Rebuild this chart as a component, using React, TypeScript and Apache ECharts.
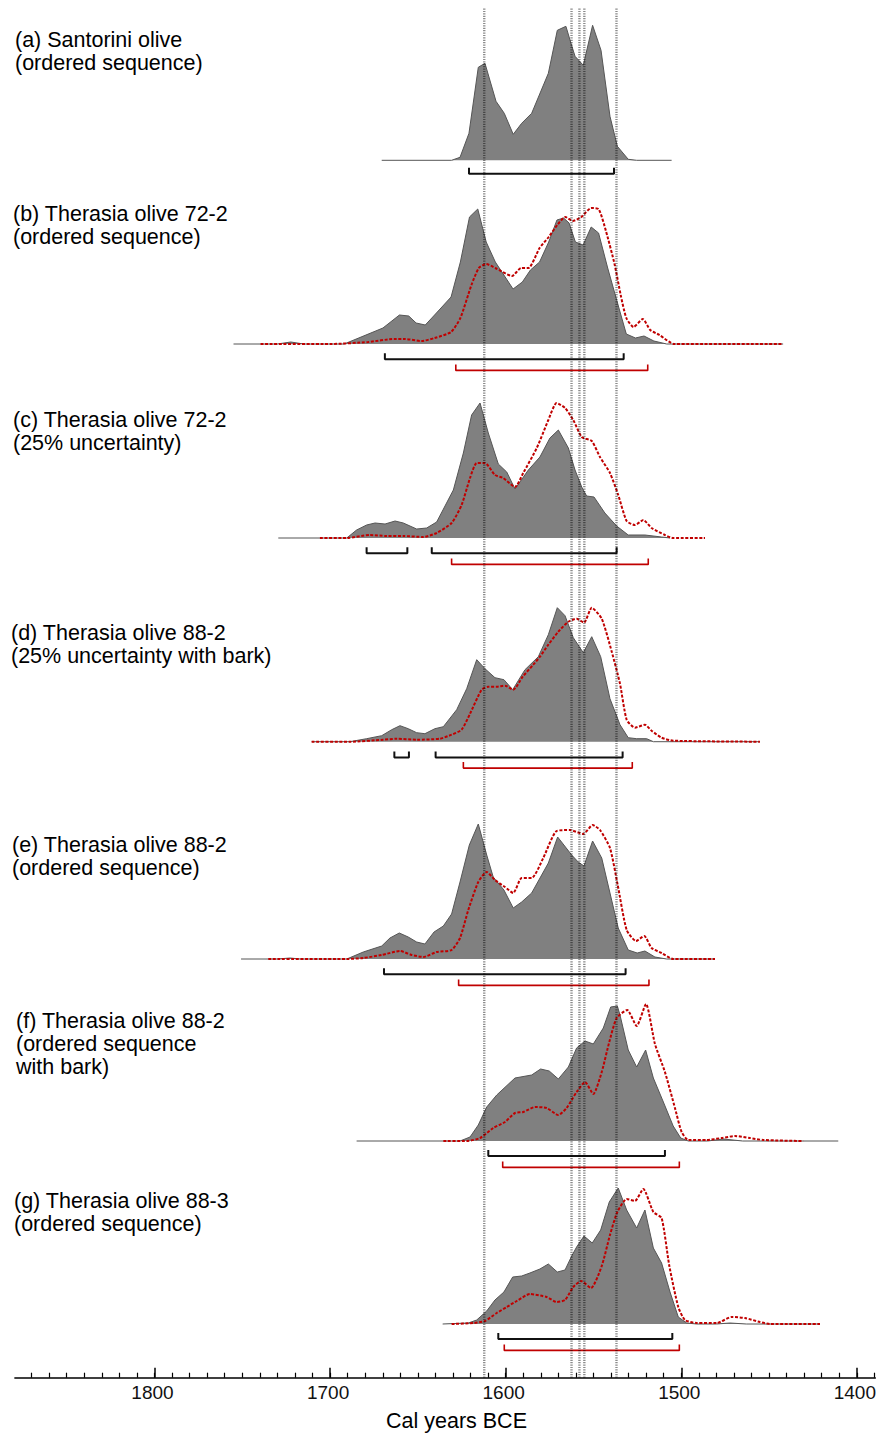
import React, { useEffect, useRef } from "react";
import * as echarts from "echarts";

const FONT = '"Liberation Sans", Arial, Helvetica, sans-serif';

type P = [number, number][];

// ---------- data (calendar years BCE, relative probability) ----------
const panelTitles = [
  "(a) Santorini olive\n(ordered sequence)",
  "(b) Therasia olive 72-2\n(ordered sequence)",
  "(c) Therasia olive 72-2\n(25% uncertainty)",
  "(d) Therasia olive 88-2\n(25% uncertainty with bark)",
  "(e) Therasia olive 88-2\n(ordered sequence)",
  "(f) Therasia olive 88-2\n(ordered sequence\nwith bark)",
  "(g) Therasia olive 88-3\n(ordered sequence)",
];

const grayA: P = [[1670.6,0],[1630.8,0],[1626.0,3],[1620.9,27],[1615.6,93],[1611.8,97],[1605.5,59],[1600.8,47],[1595.7,26],[1590.9,37],[1585.2,47],[1575.7,87],[1570.6,130],[1565.7,134],[1562.8,117],[1560.5,104],[1555.8,95],[1550.5,135],[1545.7,110],[1540.6,44],[1536.4,14],[1530.2,1],[1525.4,0],[1505.5,0]];

const grayB: P = [[1755.0,0],[1730,0],[1722.4,2],[1715,0],[1692.0,0],[1669.9,16],[1660.5,29],[1655.2,28],[1651.0,21],[1645.8,19],[1640.5,29],[1631.1,47],[1625.8,82],[1620.6,127],[1615.9,135],[1611.1,102],[1605.9,82],[1595.8,55],[1590.5,62],[1585.9,74],[1580.7,82],[1575.5,102],[1570.8,124],[1567.0,126],[1563.9,121],[1560.3,102],[1555.9,99],[1551.3,117],[1547.1,111],[1541.9,76],[1535.5,36],[1531.3,10],[1526.1,6],[1521.2,8],[1515.6,3],[1508.3,0],[1442,0]];
const redB: P = [[1739.6,0],[1699.3,0],[1678.3,2],[1663.6,5],[1657.3,5],[1647.9,3],[1640.5,6],[1631.1,12],[1625.8,26],[1619.5,59],[1615.3,76],[1611.1,80],[1605.9,76],[1596.4,68],[1591.2,76],[1587.0,76],[1580.7,96],[1575.5,107],[1570.2,120],[1566.0,127],[1561.8,123],[1556.9,127],[1551.3,136],[1547.1,135],[1542.9,113],[1538.0,80],[1534.5,49],[1531.3,26],[1527.2,17],[1521.9,25],[1517.7,14],[1512.4,9],[1504.0,0],[1442.1,0]];

const grayC: P = [[1729.5,0],[1690.5,0],[1684.9,8],[1679.2,13],[1674.4,15],[1668.7,14],[1663.0,17],[1658.3,15],[1650.7,9],[1645.0,10],[1639.3,16],[1629.8,48],[1624.1,85],[1619.4,123],[1614.6,135],[1609.9,105],[1604.2,74],[1599.4,66],[1594.7,49],[1587.1,68],[1580.5,81],[1574.8,100],[1570.0,108],[1564.3,90],[1560.5,68],[1556.7,51],[1553.9,42],[1549.7,41],[1543.5,25],[1536.8,12],[1530.2,3],[1520.7,3],[1511.2,1],[1506.4,0]];
const redC: P = [[1705.8,0],[1690.5,0],[1677.3,3],[1667.8,2],[1658.3,2],[1646.9,1],[1639.3,5],[1630.8,15],[1625.1,33],[1620.3,60],[1616.5,75],[1611.8,75],[1606.1,63],[1601.4,60],[1594.7,51],[1590.0,65],[1582.3,90],[1575.7,118],[1571.0,135],[1566.2,130],[1561.5,118],[1556.7,101],[1551.0,97],[1546.3,81],[1540.6,65],[1535.9,43],[1531.1,17],[1526.4,13],[1521.6,18],[1516.9,10],[1509.3,3],[1504.6,0],[1486.5,0]];

const grayD: P = [[1710.5,0],[1688.7,0],[1679.2,3],[1670.6,6],[1664.9,12],[1660.2,16],[1655.5,13],[1650.7,9],[1646.0,8],[1640.3,13],[1635.5,15],[1627.9,32],[1622.2,53],[1616.5,82],[1611.8,73],[1606.1,64],[1601.0,62],[1596.0,52],[1589.0,72],[1581.4,85],[1575.7,107],[1570.6,134],[1566.2,126],[1561.5,104],[1555.8,89],[1551.0,105],[1545.9,85],[1540.6,43],[1534.9,17],[1530.2,4],[1525.4,3],[1519.7,3],[1515.9,0],[1455.2,0]];
const redD: P = [[1710.5,0],[1688.7,0],[1669.7,2],[1662.1,3],[1650.7,2],[1637.4,3],[1630.8,7],[1625.1,12],[1620.3,28],[1613.7,52],[1609.9,55],[1605.1,55],[1600.4,56],[1595.7,52],[1590.3,65],[1584.3,77],[1580.5,85],[1575.7,97],[1570.0,110],[1564.3,120],[1559.6,123],[1555.4,119],[1551.0,134],[1545.3,123],[1539.6,90],[1534.9,58],[1531.1,22],[1526.4,14],[1520.7,17],[1516.9,11],[1511.2,4],[1504.6,1],[1455.2,0]];

const grayE: P = [[1750.7,0],[1730,0],[1722.8,1],[1717.1,0],[1690.5,0],[1681.1,7],[1670.6,13],[1665.9,21],[1660.6,26],[1655.5,22],[1650.7,17],[1646.0,15],[1640.8,27],[1635.5,33],[1630.8,45],[1626.0,77],[1620.7,114],[1615.6,135],[1610.8,104],[1607.1,82],[1601.0,69],[1595.7,51],[1590.9,57],[1585.2,66],[1575.7,96],[1570.4,122],[1562.4,104],[1558.7,97],[1555.4,93],[1550.5,118],[1545.3,101],[1535.9,31],[1530.2,9],[1525.1,6],[1520.7,8],[1515.0,2],[1508.3,0],[1480.8,0]];
const redE: P = [[1735.2,0],[1690.5,0],[1681.1,1],[1670.6,4],[1660.2,8],[1653.5,4],[1646.9,2],[1639.3,7],[1630.8,9],[1626.0,21],[1621.3,49],[1615.6,77],[1610.8,87],[1606.1,79],[1600.4,72],[1595.7,66],[1590.9,81],[1585.2,81],[1578.6,101],[1571.0,128],[1563.4,129],[1555.8,125],[1550.5,134],[1546.3,129],[1540.6,111],[1536.2,74],[1531.1,29],[1525.8,18],[1521.1,23],[1516.9,11],[1511.2,6],[1504.6,0],[1480.8,0]];

const grayF: P = [[1684.9,0],[1626.0,0],[1620.3,4],[1615.6,16],[1610.8,34],[1605.1,46],[1594.7,63],[1585.2,66],[1580.1,72],[1575.2,70],[1570.0,62],[1564.3,74],[1559.6,93],[1554.8,100],[1550.1,97],[1544.4,113],[1540.2,134],[1536.4,135],[1534.9,126],[1530.2,91],[1525.4,74],[1520.3,91],[1515.9,63],[1510.2,39],[1504.6,15],[1500.3,3],[1496.0,0],[1485,0],[1476.1,2],[1465,0],[1410.6,0]];
const redF: P = [[1635.5,0],[1622.2,0],[1614.6,3],[1607.1,13],[1600.4,19],[1594.7,28],[1590.0,29],[1583.3,34],[1576.7,33],[1570.0,26],[1565.3,33],[1559.6,49],[1554.8,59],[1550.1,47],[1545.3,69],[1541.0,99],[1536.8,123],[1530.8,131],[1525.4,115],[1520.1,137],[1515.0,97],[1509.3,69],[1503.6,33],[1499.8,9],[1496.0,1],[1485.5,1],[1477.0,3],[1469.4,5],[1460.9,3],[1453.3,1],[1430.5,0]];

const grayG: P = [[1635.9,0],[1621.3,1],[1616.5,4],[1610.8,13],[1606.1,24],[1601.0,32],[1596.0,47],[1590.9,48],[1586.2,51],[1580.5,55],[1575.7,60],[1570.6,52],[1566.2,54],[1562.4,68],[1559.6,77],[1555.4,88],[1550.7,81],[1545.9,94],[1541.0,122],[1535.9,136],[1531.1,114],[1525.4,96],[1520.7,114],[1515.9,76],[1511.2,61],[1506.4,32],[1501.7,7],[1496.9,1],[1491.2,0],[1480,0],[1472.3,1],[1463,0],[1421,0]];
const redG: P = [[1630.8,0],[1618.4,1],[1611.8,3],[1605.1,11],[1599.4,17],[1593.7,23],[1586.2,30],[1576.7,27],[1571.0,22],[1566.2,24],[1561.5,37],[1557.1,43],[1551.4,36],[1545.3,58],[1540.6,89],[1536.4,112],[1531.1,125],[1526.4,123],[1521.6,135],[1515.9,112],[1511.2,106],[1506.8,58],[1501.7,17],[1497.9,4],[1491.2,1],[1479.8,1],[1471.3,7],[1463.7,6],[1455.2,2],[1449.5,0],[1421.0,0]];

// highest posterior density ranges [older, younger]
const hpdGrayA: P = [[1620.9, 1538.3]];
const hpdGrayB: P = [[1668.8, 1532.8]];
const hpdGrayC: P = [[1679.2, 1656.0], [1642.1, 1536.8]];
const hpdGrayD: P = [[1663.4, 1655.1], [1639.9, 1533.4]];
const hpdGrayE: P = [[1669.3, 1531.7]];
const hpdGrayF: P = [[1609.9, 1509.3]];
const hpdGrayG: P = [[1604.2, 1505.1]];

const hpdRedB: P = [[1628.4, 1519.1]];
const hpdRedC: P = [[1630.8, 1518.8]];
const hpdRedD: P = [[1624.1, 1527.9]];
const hpdRedE: P = [[1626.8, 1518.4]];
const hpdRedF: P = [[1601.7, 1501.1]];
const hpdRedG: P = [[1600.8, 1501.1]];

// reference dates (vertical dotted lines)
const refLines = [1612.2, 1562.5, 1558.0, 1555.2, 1536.9];

const majorTicks = [1400, 1500, 1600, 1700, 1800];
const minorTicks: number[] = [];
for (let y = 1390; y <= 1870; y += 10) minorTicks.push(y);

const axisTitle = "Cal years BCE";

// ---------- layout ----------
const X_MIN = 1389.5;
const X_MAX = 1879.5;
const GRID_LEFT = 14.9;
const GRID_WIDTH = 860.4;
const Y_TOP = 140;
const Y_BOTTOM = -30;

const panelLayout = [
  { base: 160.3, titleX: 15, titleY: 40, blackGap: 13.4 },
  { base: 344, titleX: 13, titleY: 214, blackGap: 15.3 },
  { base: 538, titleX: 13, titleY: 420, blackGap: 15.3 },
  { base: 741.7, titleX: 11, titleY: 633, blackGap: 15.8 },
  { base: 959, titleX: 12, titleY: 845, blackGap: 15.3 },
  { base: 1141, titleX: 16, titleY: 1021, blackGap: 15 },
  { base: 1324, titleX: 14, titleY: 1201, blackGap: 15 },
];
const RED_GAP = 26.4;
const TICK_UP = 6;

const panels = [
  { gray: grayA, red: null as P | null, hpdG: hpdGrayA, hpdR: [] as P },
  { gray: grayB, red: redB, hpdG: hpdGrayB, hpdR: hpdRedB },
  { gray: grayC, red: redC, hpdG: hpdGrayC, hpdR: hpdRedC },
  { gray: grayD, red: redD, hpdG: hpdGrayD, hpdR: hpdRedD },
  { gray: grayE, red: redE, hpdG: hpdGrayE, hpdR: hpdRedE },
  { gray: grayF, red: redF, hpdG: hpdGrayF, hpdR: hpdRedF },
  { gray: grayG, red: redG, hpdG: hpdGrayG, hpdR: hpdRedG },
];

function buildOption() {
  const grid: any[] = [];
  const xAxis: any[] = [];
  const yAxis: any[] = [];
  const series: any[] = [];
  const graphic: any[] = [];

  panels.forEach((p, i) => {
    const L = panelLayout[i];
    grid.push({
      left: GRID_LEFT,
      width: GRID_WIDTH,
      top: L.base - Y_TOP,
      height: Y_TOP - Y_BOTTOM,
      containLabel: false,
      outerBoundsMode: "none",
    });
    xAxis.push({
      type: "value", gridIndex: i, min: X_MIN, max: X_MAX, inverse: true, show: false,
    });
    yAxis.push({
      type: "value", gridIndex: i, min: Y_BOTTOM, max: Y_TOP, show: false,
    });
    series.push({
      type: "line", xAxisIndex: i, yAxisIndex: i, data: p.gray, symbol: "none",
      lineStyle: { color: "#555555", width: 1 },
      areaStyle: { color: "#808080", opacity: 1 },
      silent: true, z: 2,
    });
    if (p.red) {
      series.push({
        type: "line", xAxisIndex: i, yAxisIndex: i, data: p.red, symbol: "none",
        smooth: 0.2,
        lineStyle: { color: "#c00000", width: 2, type: [3, 1.6] },
        silent: true, z: 3,
      });
    }
    const bracket = (r: [number, number], lvl: number, color: string, width: number) => ({
      type: "line", xAxisIndex: i, yAxisIndex: i, symbol: "none", silent: true, z: 3,
      data: [[r[0], lvl + TICK_UP], [r[0], lvl], [r[1], lvl], [r[1], lvl + TICK_UP]],
      lineStyle: { color, width },
    });
    p.hpdG.forEach((r) => series.push(bracket(r as [number, number], -L.blackGap, "#111111", 2)));
    p.hpdR.forEach((r) => series.push(bracket(r as [number, number], -RED_GAP, "#c00000", 1.6)));

    graphic.push({
      type: "text",
      x: L.titleX,
      y: L.titleY - 11.5,
      style: {
        text: panelTitles[i],
        fontSize: 21.5,
        fontFamily: FONT,
        fill: "#000",
        lineHeight: 23,
        align: "left",
        verticalAlign: "top",
      },
    });
  });

  // background grid: axis line + minor ticks + reference lines
  const bg = panels.length;
  const axisY = 1377.7;
  grid.push({ left: GRID_LEFT, width: GRID_WIDTH, top: 8, height: axisY - 8, containLabel: false, outerBoundsMode: "none" });
  xAxis.push({
    type: "value", gridIndex: bg, min: X_MIN, max: X_MAX, inverse: true, position: "bottom",
    axisLine: { show: true, onZero: false, lineStyle: { color: "#000", width: 1.5 } },
    axisTick: { show: true, inside: true, length: 5, lineStyle: { color: "#000", width: 1.2 }, customValues: minorTicks },
    axisLabel: { show: false },
    splitLine: { show: false },
  });
  yAxis.push({ type: "value", gridIndex: bg, min: 0, max: 1, show: false });

  // second background grid: major ticks + labels
  const bg2 = bg + 1;
  grid.push({ left: GRID_LEFT, width: GRID_WIDTH, top: 8, height: axisY - 8, containLabel: false, outerBoundsMode: "none" });
  xAxis.push({
    type: "value", gridIndex: bg2, min: X_MIN, max: X_MAX, inverse: true, position: "bottom",
    axisLine: { show: false, onZero: false },
    axisTick: { show: true, inside: true, length: 10, lineStyle: { color: "#000", width: 1.5 }, customValues: majorTicks },
    axisLabel: {
      show: true, customValues: majorTicks, fontSize: 19, fontFamily: FONT, color: "#111", margin: 5,
      padding: [0, 4, 0, 0],
      formatter: (v: number) => String(Math.round(v)),
    },
    splitLine: { show: false },
  });
  yAxis.push({ type: "value", gridIndex: bg2, min: 0, max: 1, show: false });

  refLines.forEach((yr) => {
    series.push({
      type: "line", xAxisIndex: bg, yAxisIndex: bg, symbol: "none", silent: true, z: 6,
      data: [[yr, 0], [yr, 1]],
      lineStyle: { color: "rgba(0,0,0,0.45)", width: 2.4, type: [1.2, 1.2] },
    });
  });

  graphic.push({
    type: "text",
    x: 456.5,
    y: 1421,
    style: {
      text: axisTitle,
      fontSize: 21.5,
      fontFamily: FONT,
      fill: "#000",
      align: "center",
      verticalAlign: "middle",
    },
  });

  return {
    animation: false,
    backgroundColor: "#ffffff",
    grid,
    xAxis,
    yAxis,
    series,
    graphic,
  };
}

export default function App() {
  const ref = useRef<HTMLDivElement | null>(null);
  useEffect(() => {
    if (!ref.current) return;
    const chart = echarts.init(ref.current, null, { renderer: "svg" });
    chart.setOption(buildOption() as any);
    return () => chart.dispose();
  }, []);
  return (
    <div
      ref={ref}
      style={{ position: "absolute", left: 0, top: 0, width: 878, height: 1434 }}
    />
  );
}
